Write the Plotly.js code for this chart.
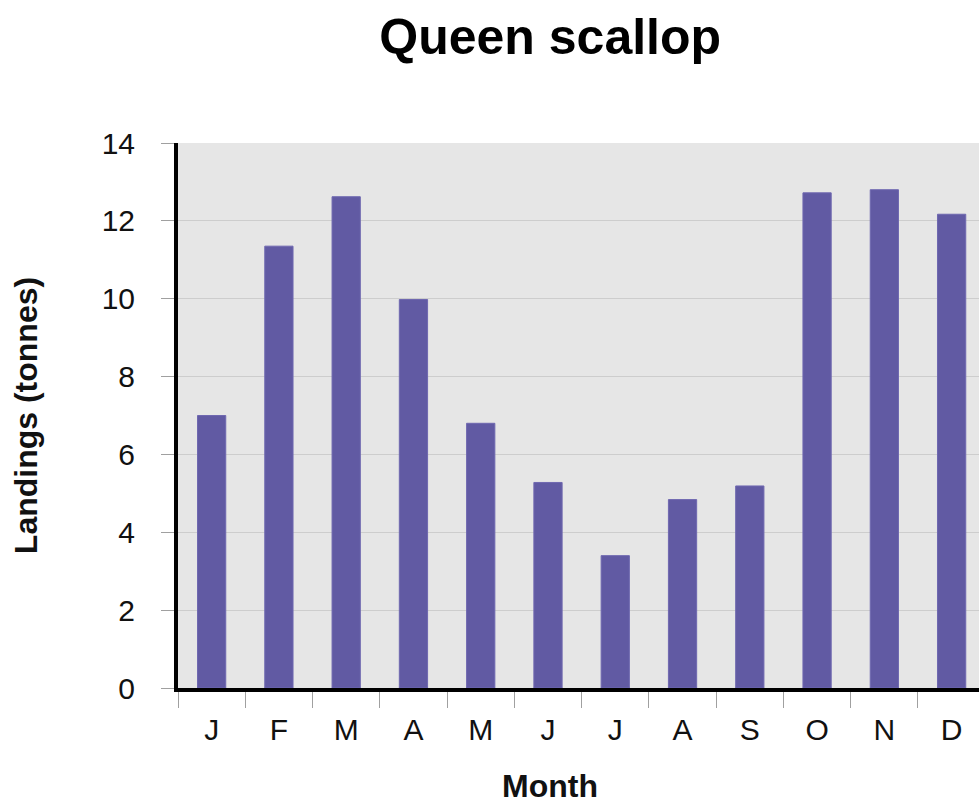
<!DOCTYPE html>
<html>
<head>
<meta charset="utf-8">
<script src="https://cdn.plot.ly/plotly-3.0.1.min.js"></script>
<style>html,body{margin:0;padding:0;background:#fff;}#chart{width:979px;height:804px;}</style>
</head>
<body>
<div id="chart"></div>
<script>
const months = ["J","F","M","A","M","J","J","A","S","O","N","D"];
const monthIds = ["Jan","Feb","Mar","Apr","May","Jun","Jul","Aug","Sep","Oct","Nov","Dec"];
const landings = [7.0, 11.35, 12.62, 9.98, 6.8, 5.28, 3.4, 4.84, 5.19, 12.72, 12.8, 12.17];
const yTicks = [0, 2, 4, 6, 8, 10, 12, 14];

const FONT = "Liberation Sans, Arial, Helvetica, sans-serif";

const trace = {
  type: "bar",
  x: monthIds,
  y: landings,
  marker: {color: "#615aa3", line: {color: "#6f68b0", width: 1}},
  hoverinfo: "x+y"
};

const layout = {
  width: 979,
  height: 804,
  margin: {l: 178, r: 0, t: 143, b: 116},
  paper_bgcolor: "#ffffff",
  plot_bgcolor: "#e6e6e6",
  bargap: 0.58,
  showlegend: false,
  font: {family: FONT, color: "#111"},
  title: {
    text: "<b>Queen scallop</b>",
    font: {family: FONT, size: 50, color: "#000"},
    x: 0.562, xref: "container", xanchor: "center",
    y: 0.955, yref: "container", yanchor: "middle"
  },
  xaxis: {
    type: "category",
    tickmode: "array",
    tickvals: monthIds,
    ticktext: months,
    range: [-0.5, 11.407],
    tickson: "boundaries",
    ticks: "outside",
    ticklen: 16,
    tickwidth: 1,
    tickcolor: "#a0a0a0",
    ticklabelstandoff: 12,
    showline: true,
    linecolor: "#000",
    linewidth: 4,
    showgrid: false,
    zeroline: false,
    tickfont: {family: FONT, size: 30, color: "#111"},
    fixedrange: true
  },
  yaxis: {
    range: [0, 14],
    tickmode: "array",
    tickvals: yTicks,
    ticks: "outside",
    ticklen: 13,
    tickwidth: 1,
    tickcolor: "#a0a0a0",
    ticklabelstandoff: 20,
    showline: true,
    linecolor: "#000",
    linewidth: 4,
    showgrid: true,
    gridcolor: "#cdcdcd",
    gridwidth: 1,
    zeroline: false,
    tickfont: {family: FONT, size: 30, color: "#111"},
    title: {text: "<b>Landings (tonnes)</b>", font: {family: FONT, size: 32, color: "#111"}, standoff: 55},
    fixedrange: true
  },
  annotations: [{
    text: "<b>Month</b>",
    xref: "paper", yref: "paper",
    x: 0.4644, y: -0.18,
    xanchor: "center", yanchor: "middle",
    showarrow: false,
    font: {family: FONT, size: 32, color: "#111"}
  }]
};

Plotly.newPlot("chart", [trace], layout, {displayModeBar: false, staticPlot: true});
</script>
</body>
</html>
